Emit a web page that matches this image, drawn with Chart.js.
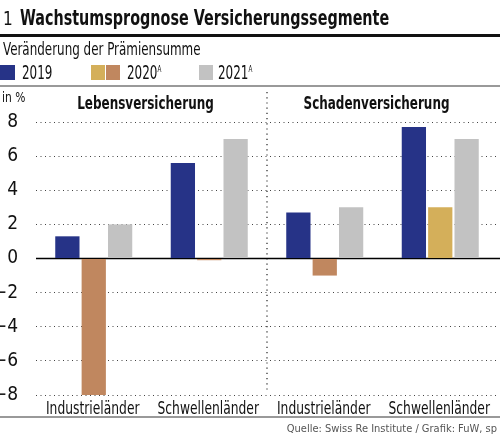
<!DOCTYPE html>
<html>
<head>
<meta charset="utf-8">
<script src="https://cdn.jsdelivr.net/npm/chart.js@4.4.1/dist/chart.umd.min.js"></script>
<style>
  body { margin: 0; background: #fff; }
  #wrap { position: relative; width: 500px; height: 437px; overflow: hidden;
          font-family: "Liberation Sans Narrow", "DejaVu Sans Condensed", "Roboto", sans-serif; color: #111; }
  #wrap div { position: absolute; white-space: nowrap; }
  canvas { position: absolute; left: 0; top: 0; }
  .sq { position: absolute; width: 14px; height: 15px; top: 65px; }
  .cond { transform-origin: left center; }
  sup { font-size: 9px; vertical-align: 7px; line-height: 0; }
</style>
</head>
<body>
<div id="wrap">
  <canvas id="chart" width="500" height="437"></canvas>
  <div class="cond" style="left:3px;top:6px;font-size:20px;transform:scaleX(0.85);">1</div>
  <div class="cond" style="left:20px;top:6px;font-size:21px;font-weight:bold;transform:scaleX(0.76);">Wachstumsprognose Versicherungssegmente</div>
  <div style="left:0;top:34px;width:500px;height:3px;background:#111;"></div>
  <div class="cond" style="left:3px;top:39px;font-size:17px;transform:scaleX(0.78);">Veränderung der Prämiensumme</div>
  <div class="sq" style="left:0;width:15px;background:#263387"></div>
  <div class="cond" style="left:22px;top:61px;font-size:19px;transform:scaleX(0.7);">2019</div>
  <div class="sq" style="left:91px;background:#d4af5a"></div>
  <div class="sq" style="left:106px;background:#c0875f"></div>
  <div class="cond" style="left:127px;top:61px;font-size:19px;transform:scaleX(0.7);">2020<sup>A</sup></div>
  <div class="sq" style="left:199px;background:#c2c2c2"></div>
  <div class="cond" style="left:218px;top:61px;font-size:19px;transform:scaleX(0.7);">2021<sup>A</sup></div>
  <div style="left:0;top:85px;width:500px;height:2px;background:#999;"></div>
  <div class="cond" style="left:2px;top:89px;font-size:14px;transform:scaleX(0.85);">in %</div>
  <div style="left:0;top:416px;width:500px;height:2px;background:#999;"></div>
  <div style="right:3px;top:422px;font-size:11px;color:#555;">Quelle: Swiss Re Institute / Grafik: FuW, sp</div>
</div>
<script>
const FONT = '"Liberation Sans Narrow", "DejaVu Sans Condensed", "Roboto", sans-serif';

// data
const categories = ['Industrieländer', 'Schwellenländer', 'Industrieländer', 'Schwellenländer'];
const groups = ['Lebensversicherung', 'Schadenversicherung'];
const seriesNames = ['2019', '2020A', '2021A'];
const values2019 = [1.3, 5.6, 2.7, 7.7];
const values2020 = [-8.0, -0.1, -1.0, 3.0];
const values2021 = [2.0, 7.0, 3.0, 7.0];
const yTicks = [-8, -6, -4, -2, 0, 2, 4, 6, 8];

const BLUE = '#263387', BROWN = '#c0875f', GOLD = '#d4af5a', GRAY = '#c2c2c2';

// condensed text on the canvas (horizontal squeeze)
function squeezed(ctx, text, x, y, font, sx) {
  ctx.save();
  ctx.translate(x, y);
  ctx.scale(sx, 1);
  ctx.font = font;
  ctx.fillText(text, 0, 0);
  ctx.restore();
}

// group headers, category labels, dotted divider, zero line
const annotations = {
  id: 'annotations',
  beforeDatasetsDraw(chart) {
    const { ctx, scales: { x, y }, chartArea } = chart;
    const mid = (x.getPixelForValue(1) + x.getPixelForValue(2)) / 2;
    ctx.save();
    ctx.strokeStyle = '#222';
    ctx.lineWidth = 1.2;
    ctx.setLineDash([1.2, 4]);
    ctx.beginPath();
    ctx.moveTo(mid, 92);
    ctx.lineTo(mid, chartArea.bottom - 4);
    ctx.stroke();
    ctx.setLineDash([]);
    ctx.strokeStyle = '#000';
    ctx.lineWidth = 1.6;
    const py = y.getPixelForValue(0);
    ctx.beginPath();
    ctx.moveTo(chartArea.left, py);
    ctx.lineTo(500, py);
    ctx.stroke();
    ctx.restore();
  },
  afterDraw(chart) {
    const { ctx, scales: { x } } = chart;
    ctx.save();
    ctx.fillStyle = '#111';
    ctx.textAlign = 'center';
    ctx.textBaseline = 'middle';
    groups.forEach((g, i) => {
      const cx = (x.getPixelForValue(i * 2) + x.getPixelForValue(i * 2 + 1)) / 2;
      squeezed(ctx, g, cx - 6, 104, 'bold 18px ' + FONT, 0.74);
    });
    categories.forEach((c, i) => {
      squeezed(ctx, c, x.getPixelForValue(i) - 1, 409, '18px ' + FONT, 0.76);
    });
    ctx.restore();
  }
};

new Chart(document.getElementById('chart'), {
  type: 'bar',
  data: {
    labels: categories,
    datasets: [
      { label: seriesNames[0], data: values2019, backgroundColor: BLUE },
      { label: seriesNames[1], data: values2020, backgroundColor: values2020.map(v => v < 0 ? BROWN : GOLD) },
      { label: seriesNames[2], data: values2021, backgroundColor: GRAY }
    ]
  },
  options: {
    responsive: false,
    animation: false,
    devicePixelRatio: 1,
    layout: { padding: { top: 122, right: 2, bottom: 20, left: 0 } },
    categoryPercentage: 0.685,
    barPercentage: 0.92,
    plugins: { legend: { display: false }, tooltip: { enabled: false } },
    scales: {
      x: {
        grid: { display: false },
        border: { display: false },
        ticks: { display: false },
        afterFit(s) { s.height = 22; }
      },
      y: {
        min: -8, max: 8,
        afterBuildTicks(s) { s.ticks = yTicks.map(v => ({ value: v })); },
        afterFit(s) { s.width = 36; },
        border: { display: false, dash: [1, 3.5] },
        grid: { color: '#444', lineWidth: 1, drawTicks: false },
        ticks: {
          color: '#111',
          font: { family: FONT, size: 19 },
          padding: 18,
          callback: v => String(v).replace('-', '\u2212')
        }
      }
    }
  },
  plugins: [annotations]
});
</script>
</body>
</html>
